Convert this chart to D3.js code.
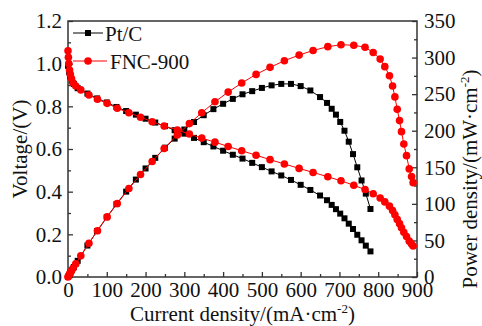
<!DOCTYPE html>
<html><head><meta charset="utf-8">
<script src="https://cdn.jsdelivr.net/npm/d3@7"></script>
<style>
html,body{margin:0;padding:0;background:#fff;}
</style></head>
<body><svg id="c" width="482" height="326"></svg>
<script>
// ---- data ----
const xTicks = [0,100,200,300,400,500,600,700,800,900];
const xMinor = [50,150,250,350,450,550,650,750,850];
const yLeftTicks = [0,0.2,0.4,0.6,0.8,1.0,1.2];
const yLeftMinor = [0.1,0.3,0.5,0.7,0.9,1.1];
const yRightTicks = [0,50,100,150,200,250,300,350];
const yRightMinor = [25,75,125,175,225,275,325];

const seriesNames = ["Pt/C","FNC-900"];

const ptcCurrent = [0,3,6,10,15,25,50,75,100,125,150,175,200,225,250,275,300,325,350,375,400,425,450,475,500,525,550,575,600,625,650,668,680,691,702,713,724,735,746,757,768,780];
const ptcVoltage = [0.99,0.96,0.94,0.92,0.905,0.885,0.86,0.837,0.818,0.797,0.778,0.761,0.742,0.724,0.707,0.688,0.672,0.652,0.632,0.612,0.592,0.573,0.555,0.535,0.515,0.495,0.476,0.455,0.432,0.408,0.382,0.36,0.338,0.318,0.297,0.275,0.25,0.225,0.198,0.172,0.147,0.12];
const ptcPower = [0,2.9,5.6,9.2,13.6,22.1,43,62.8,81.8,99.6,116.7,133.2,148.4,162.9,176.8,189.2,201.6,211.9,221.2,229.5,236.8,243.5,249.8,254.1,258.5,262,264,264,261,255,246,238,230,222,212,200,185,168,150,132,114,93];

const fncCurrent = [0,1,2,4,6,9,13,20,33,54,76,101,127,157,187,217,248,282,313,345,379,413,448,485,521,558,596,632,670,704,737,766,787,805,817,829,837,843,849,855,860,866,873,880,886,890];
const fncVoltage = [1.06,1.03,1.0,0.97,0.95,0.93,0.91,0.895,0.877,0.853,0.833,0.814,0.791,0.77,0.749,0.728,0.708,0.689,0.67,0.651,0.632,0.612,0.592,0.571,0.55,0.53,0.509,0.49,0.47,0.451,0.43,0.41,0.39,0.37,0.352,0.332,0.312,0.292,0.27,0.25,0.231,0.21,0.19,0.168,0.155,0.145];
const fncPower = [0,1.0,2.0,3.9,5.7,8.4,11.8,17.9,28.9,46.1,63.3,82.2,100.5,120.9,140.1,158,175.6,194.3,209.7,224.6,239.5,252.8,265.2,277,286.6,295.7,303.4,309.7,314.9,317.5,316.9,314.1,306.9,297.9,287.6,275.2,261.1,246.2,229.2,213.8,198.7,181.9,165.9,147.8,137.3,129];

// ---- layout ----
const FONT = "'Liberation Serif','Times New Roman','DejaVu Serif',serif";
const svg = d3.select("#c");
const L = 68, R = 417, T = 21, B = 277;
const x = d3.scaleLinear().domain([0,900]).range([L,R]);
const yL = d3.scaleLinear().domain([0,1.2]).range([B,T]);
const yR = d3.scaleLinear().domain([0,350]).range([B,T]);
const FS = 21;
const axisColor = "#333";

function styleAxis(g){
  g.attr("font-family",null).attr("font-size",null);
  g.select(".domain").remove();
  g.selectAll("line").attr("stroke",axisColor).attr("stroke-width",1.3);
  g.selectAll("text").style("font-size",FS+"px").style("font-family",FONT).attr("fill","#111");
}
function txt(sel){ return sel.style("font-family",FONT).style("font-size",FS+"px").attr("fill","#111"); }

// minor ticks
svg.append("g").attr("transform",`translate(0,${B})`)
  .call(d3.axisBottom(x).tickValues(xMinor).tickSize(-3).tickFormat("")).call(styleAxis);
svg.append("g").attr("transform",`translate(${L},0)`)
  .call(d3.axisLeft(yL).tickValues(yLeftMinor).tickSize(-3).tickFormat("")).call(styleAxis);
svg.append("g").attr("transform",`translate(${R},0)`)
  .call(d3.axisRight(yR).tickValues(yRightMinor).tickSize(-3).tickFormat("")).call(styleAxis);

// major ticks
svg.append("g").attr("transform",`translate(0,${B})`)
  .call(d3.axisBottom(x).tickValues(xTicks).tickSize(-5).tickPadding(5).tickFormat(d3.format("d"))).call(styleAxis);
svg.append("g").attr("transform",`translate(${L},0)`)
  .call(d3.axisLeft(yL).tickValues(yLeftTicks).tickSize(-5).tickPadding(6).tickFormat(d3.format(".1f"))).call(styleAxis);
svg.append("g").attr("transform",`translate(${R},0)`)
  .call(d3.axisRight(yR).tickValues(yRightTicks).tickSize(-5).tickPadding(7).tickFormat(d3.format("d"))).call(styleAxis);

// frame
svg.append("rect").attr("x",L).attr("y",T).attr("width",R-L).attr("height",B-T)
  .attr("fill","none").attr("stroke",axisColor).attr("stroke-width",1.5);

// series
const ptc = ptcCurrent.map((c,i)=>({c,v:ptcVoltage[i],p:ptcPower[i]}));
const fnc = fncCurrent.map((c,i)=>({c,v:fncVoltage[i],p:fncPower[i]}));
const lineV = d3.line().x(d=>x(d.c)).y(d=>yL(d.v));
const lineP = d3.line().x(d=>x(d.c)).y(d=>yR(d.p));
const plot = svg.append("g");

function drawSquares(data, yf){
  plot.append("g").selectAll("rect").data(data).join("rect")
    .attr("x",d=>x(d.c)-3).attr("y",d=>yf(d)-3).attr("width",6).attr("height",6).attr("fill","#000");
}
function drawCircles(data, yf){
  plot.append("g").selectAll("circle").data(data).join("circle")
    .attr("cx",d=>x(d.c)).attr("cy",d=>yf(d)).attr("r",3.8).attr("fill","#ff0000");
}
plot.append("path").datum(ptc).attr("d",lineV).attr("fill","none").attr("stroke","#000").attr("stroke-width",1);
plot.append("path").datum(ptc).attr("d",lineP).attr("fill","none").attr("stroke","#000").attr("stroke-width",1);
drawSquares(ptc, d=>yL(d.v));
drawSquares(ptc, d=>yR(d.p));
plot.append("path").datum(fnc).attr("d",lineV).attr("fill","none").attr("stroke","#ff0000").attr("stroke-width",1);
plot.append("path").datum(fnc).attr("d",lineP).attr("fill","none").attr("stroke","#ff0000").attr("stroke-width",1);
drawCircles(fnc, d=>yL(d.v));
drawCircles(fnc, d=>yR(d.p));

// legend
const leg = svg.append("g");
leg.append("line").attr("x1",73).attr("x2",103).attr("y1",33).attr("y2",33).attr("stroke","#000").attr("stroke-width",1);
leg.append("rect").attr("x",85).attr("y",30).attr("width",6).attr("height",6).attr("fill","#000");
txt(leg.append("text").attr("x",105).attr("y",40.5)).text(seriesNames[0]);
leg.append("line").attr("x1",73).attr("x2",107).attr("y1",61).attr("y2",61).attr("stroke","#ff0000").attr("stroke-width",1);
leg.append("circle").attr("cx",88).attr("cy",61).attr("r",3.8).attr("fill","#ff0000");
txt(leg.append("text").attr("x",110).attr("y",68.5)).text(seriesNames[1]);

// axis titles
const xt = txt(svg.append("text").attr("x",(L+R)/2).attr("y",321).attr("text-anchor","middle"));
xt.append("tspan").text("Current density/(mA·cm");
xt.append("tspan").attr("dy",-8).style("font-size","13px").text("-2");
xt.append("tspan").attr("dy",8).text(")");

txt(svg.append("text").attr("transform",`translate(27,${(T+B)/2}) rotate(-90)`).attr("text-anchor","middle"))
  .text("Voltage/(V)");

const rt = txt(svg.append("text").attr("transform",`translate(477,${(T+B)/2+30}) rotate(-90)`).attr("text-anchor","middle"));
rt.append("tspan").text("Power density/(mW·cm");
rt.append("tspan").attr("dy",-8).style("font-size","13px").text("-2");
rt.append("tspan").attr("dy",8).text(")");
</script></body></html>
